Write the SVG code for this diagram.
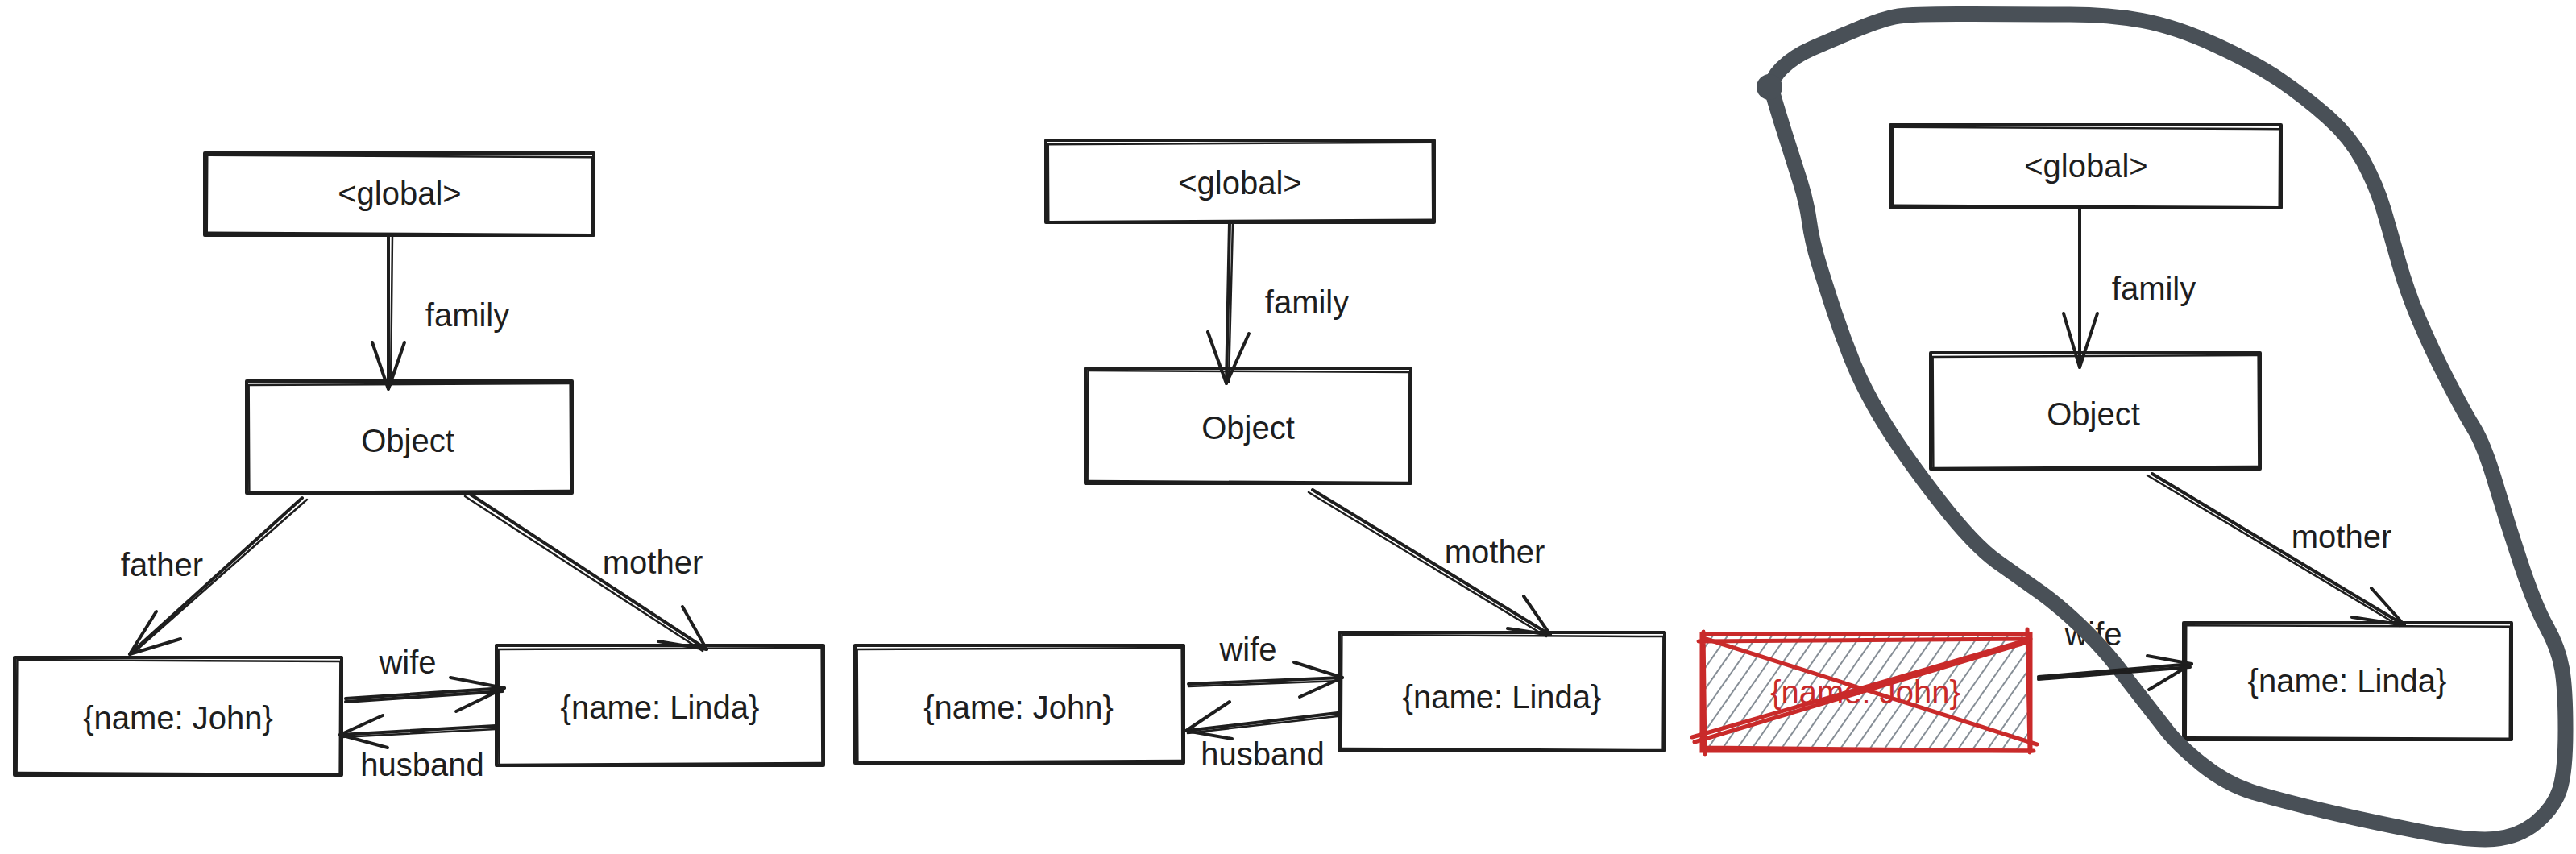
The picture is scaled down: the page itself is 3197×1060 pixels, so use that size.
<svg xmlns="http://www.w3.org/2000/svg" width="3197" height="1060" viewBox="0 0 3197 1060">
<style>
.bx{fill:none;stroke:#1e1e1e;stroke-width:4;stroke-linecap:round;stroke-linejoin:round}
.bx2{fill:none;stroke:#1e1e1e;stroke-width:2.5;stroke-linecap:round}
.ln{fill:none;stroke:#1e1e1e;stroke-width:4;stroke-linecap:round;stroke-linejoin:round}
.ln2{fill:none;stroke:#1e1e1e;stroke-width:2.5;stroke-linecap:round}
.t{font-family:"Liberation Sans",Arial,sans-serif;font-size:40px;fill:#1e1e1e;text-anchor:middle}
.red{fill:none;stroke:#c92a2a;stroke-width:5;stroke-linecap:round}
.loop{fill:none;stroke:#495057;stroke-width:19;stroke-linecap:round;stroke-linejoin:round}
</style>
<defs>
<pattern id="hatch" patternUnits="userSpaceOnUse" width="15" height="15" patternTransform="rotate(35)">
<line x1="4" y1="0" x2="4" y2="15" stroke="#868e96" stroke-width="2"/>
</pattern>
</defs>

<g id="L-global"><rect class="bx" x="254" y="190" width="483" height="102"/><rect class="bx2" x="257" y="194" width="478" height="96" transform="rotate(0.3 495 241)"/><text class="t" x="496" y="254">&lt;global&gt;</text></g>
<g id="L-object"><rect class="bx" x="306" y="473" width="404" height="139"/><rect class="bx2" x="309" y="477" width="399" height="133" transform="rotate(-0.3 508 543)"/><text class="t" x="506" y="561">Object</text></g>
<g id="L-john"><rect class="bx" x="18" y="816" width="406" height="146"/><rect class="bx2" x="21" y="820" width="401" height="140" transform="rotate(0.3 221 889)"/><text class="t" x="221" y="905">{name: John}</text></g>
<g id="L-linda"><rect class="bx" x="616" y="801" width="406" height="149"/><rect class="bx2" x="619" y="805" width="401" height="143" transform="rotate(-0.3 819 875)"/><text class="t" x="819" y="892">{name: Linda}</text></g>

<g id="M-global"><rect class="bx" x="1298" y="174" width="482" height="102"/><rect class="bx2" x="1301" y="178" width="477" height="96" transform="rotate(-0.3 1539 225)"/><text class="t" x="1539" y="241">&lt;global&gt;</text></g>
<g id="M-object"><rect class="bx" x="1347" y="457" width="404" height="143"/><rect class="bx2" x="1350" y="461" width="399" height="137" transform="rotate(0.3 1549 528)"/><text class="t" x="1549" y="545">Object</text></g>
<g id="M-john"><rect class="bx" x="1061" y="801" width="408" height="146"/><rect class="bx2" x="1064" y="805" width="403" height="140" transform="rotate(-0.3 1265 874)"/><text class="t" x="1264" y="892">{name: John}</text></g>
<g id="M-linda"><rect class="bx" x="1662" y="785" width="404" height="147"/><rect class="bx2" x="1665" y="789" width="399" height="141" transform="rotate(0.3 1864 858)"/><text class="t" x="1864" y="879">{name: Linda}</text></g>

<g id="R-global"><rect class="bx" x="2346" y="155" width="485" height="103"/><rect class="bx2" x="2349" y="159" width="480" height="97" transform="rotate(0.3 2588 206)"/><text class="t" x="2589" y="220">&lt;global&gt;</text></g>
<g id="R-object"><rect class="bx" x="2396" y="438" width="409" height="144"/><rect class="bx2" x="2399" y="442" width="404" height="138" transform="rotate(-0.3 2600 510)"/><text class="t" x="2598" y="528">Object</text></g>
<g id="R-linda"><rect class="bx" x="2710" y="773" width="407" height="145"/><rect class="bx2" x="2713" y="777" width="402" height="139" transform="rotate(0.2 2913 845)"/><text class="t" x="2913" y="859">{name: Linda}</text></g>
<g id="R-john">
<rect x="2112" y="787" width="408" height="145" fill="url(#hatch)"/>
<rect class="red" x="2112" y="787" width="408" height="145"/>
<path class="red" d="M2108,796 L2520,793 M2118,928 L2524,932 M2114,784 L2116,936 M2516,781 L2519,934" stroke-width="3"/>
<path class="red" d="M2114,792 L2528,924 M2100,915 L2514,795 M2103,921 L2516,797" stroke-width="4"/>
<text class="t" x="2315" y="873" style="fill:#c92a2a">{name: John}</text>
</g>

<g id="labels">
<text class="t" x="580" y="405">family</text>
<text class="t" x="201" y="715">father</text>
<text class="t" x="810" y="712">mother</text>
<text class="t" x="506" y="836">wife</text>
<text class="t" x="524" y="963">husband</text>
<text class="t" x="1622" y="389">family</text>
<text class="t" x="1855" y="699">mother</text>
<text class="t" x="1549" y="820">wife</text>
<text class="t" x="1567" y="950">husband</text>
<text class="t" x="2673" y="372">family</text>
<text class="t" x="2906" y="680">mother</text>
<text class="t" x="2598" y="801">wife</text>
</g>

<g id="lasso">
<path class="loop" d="M 2211,85 Q 2226,70 2249,60 Q 2272,50 2304.5,36.5 Q 2337,23 2356.5,20 Q 2376,17 2448.5,17.5 Q 2521,18 2569,18 Q 2617,18 2658.5,25.5 Q 2700,33 2750,56 Q 2800,79 2830,99.5 Q 2860,120 2888.5,145 Q 2917,170 2933.5,201 Q 2950,232 2958.5,261 Q 2967,290 2977,325.5 Q 2987,361 3002,396.5 Q 3017,432 3037,471 Q 3057,510 3070,531 Q 3083,552 3097.5,601 Q 3112,650 3129,701 Q 3146,752 3160.5,778 Q 3175,804 3179.5,829.5 Q 3184,855 3184,906 Q 3184,957 3177,979.5 Q 3170,1002 3148,1020.5 Q 3126,1039 3095,1041.5 Q 3064,1044 2998.5,1031 Q 2933,1018 2884.5,1006.5 Q 2836,995 2800,984.5 Q 2764,974 2732.5,948.5 Q 2701,923 2686,902.5 Q 2670,882 2642,846 Q 2616,810 2586,781 Q 2556,752 2532,735 Q 2508,718 2479,697.5 Q 2450,677 2407.5,622.5 Q 2365,568 2340,527.5 Q 2315,487 2301,453 Q 2287,419 2276,385.5 Q 2265,352 2257,326 Q 2249,300 2245.5,275 Q 2242,250 2234,225 Q 2226,200 2214.5,163.5 Q 2203,127 2199.5,113.5 Q 2196,100 2211,85"/>
<circle cx="2196" cy="108" r="16" fill="#495057"/>
</g>

<g id="connectors">
<path class="ln" d="M482,292 L482,481"/><path class="ln2" d="M487,292 L485,478"/><polyline class="ln" points="462,425 482,483 502,425"/>
<path class="ln" d="M375,618 L161,812"/><path class="ln2" d="M381,620 L166,810"/><polyline class="ln" points="194,759 161,812 224,793"/>
<path class="ln" d="M583,613 L877,806"/><path class="ln2" d="M577,616 L872,808"/><polyline class="ln" points="847,753 877,806 817,796"/>
<path class="ln" d="M429,867 L626,854"/><path class="ln" d="M429,871 L624,858"/><polyline class="ln" points="559,841 626,854 566,883"/>
<path class="ln" d="M615,901 L422,912"/><path class="ln2" d="M615,905 L424,915"/><polyline class="ln" points="475,888 422,912 481,928"/>

<path class="ln" d="M1526,276 L1522,476"/><path class="ln2" d="M1530,276 L1525,474"/><polyline class="ln" points="1499,412 1522,476 1550,414"/>
<path class="ln" d="M1629,608 L1924,788"/><path class="ln2" d="M1624,611 L1919,790"/><polyline class="ln" points="1891,740 1924,788 1871,780"/>
<path class="ln" d="M1475,849 L1666,841"/><path class="ln2" d="M1475,852 L1664,845"/><polyline class="ln" points="1606,822 1666,841 1613,865"/>
<path class="ln" d="M1660,885 L1472,907"/><path class="ln2" d="M1660,889 L1474,910"/><polyline class="ln" points="1526,871 1472,907 1529,917"/>

<path class="ln" d="M2581,258 L2581,456"/><polyline class="ln" points="2561,389 2581,456 2603,389"/>
<path class="ln" d="M2671,588 L2984,776"/><path class="ln2" d="M2665,590 L2978,777"/><polyline class="ln" points="2943,730 2984,776 2919,766"/>
<path class="ln" d="M2530,840 L2720,824"/><path class="ln" d="M2530,843 L2718,828"/><polyline class="ln" points="2665,814 2720,824 2667,856"/>
</g>
</svg>
